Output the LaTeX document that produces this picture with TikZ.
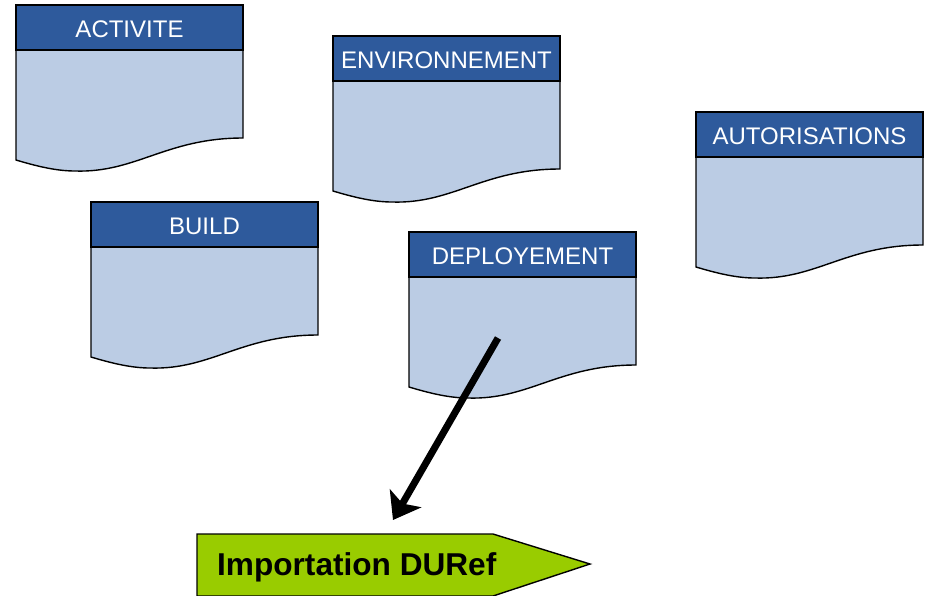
\documentclass[tikz,border=0pt]{standalone}
\usepackage{fontspec}
\setmainfont{Liberation Sans}
\usetikzlibrary{arrows.meta}
\definecolor{hdrblue}{RGB}{46,90,156}
\definecolor{bodyblue}{RGB}{187,204,228}
\definecolor{impgreen}{RGB}{153,204,0}
\tikzset{
  hdr/.style={draw=black, line width=1.4pt, fill=hdrblue, text=white,
    minimum width=227pt, minimum height=45pt, inner sep=0pt,
    font=\fontsize{24}{28}\selectfont},
  hdrtext/.style={text=white, inner sep=0pt, yshift=-1.5pt,
    font=\fontsize{24}{28}\selectfont},
  docbody/.style={draw=black, line width=1.4pt, fill=bodyblue},
  impbox/.style={draw=black, line width=1.4pt, fill=impgreen},
  implabel/.style={anchor=base west, inner sep=0pt, font=\bfseries\fontsize{31.6}{36}\selectfont},
  bigarrow/.style={line width=7pt, -{Stealth[length=25pt,width=36pt,inset=6pt]}}
}
\newcommand{\docshape}[4]{%
  \draw[docbody] (#1,#2+45) -- (#1+227,#2+45) -- (#1+227,#2+133)
    .. controls (#1+150,#2+133) and (#1+120,#2+168) .. (#1+59,#2+166)
    .. controls (#1+40,#2+166) and (#1+20,#2+161) .. (#1,#2+155) -- cycle;
  \node[hdr] (#3) at (#1+113.5,#2+22.5) {};
  \node[hdrtext] (#3-t) at (#3.center) {#4};
}
\begin{document}
\begin{tikzpicture}[x=1pt,y=-1pt]
\useasboundingbox (0,0) rectangle (928,595);
\docshape{16}{5}{act}{ACTIVITE}
\docshape{333}{36}{env}{ENVIRONNEMENT}
\docshape{696}{112}{aut}{AUTORISATIONS}
\docshape{91}{202}{bld}{BUILD}
\docshape{409}{232}{dep}{DEPLOYEMENT}
\draw[impbox] (197,534) -- (493,534) -- (590,564) -- (493,596) -- (197,596) -- cycle;
\node[implabel] (imp) at (217,575) {Importation DURef};
\coordinate (as) at (498,338);
\coordinate (ae) at (393,520);
\draw[bigarrow] (as) -- (ae);
\end{tikzpicture}
\end{document}
